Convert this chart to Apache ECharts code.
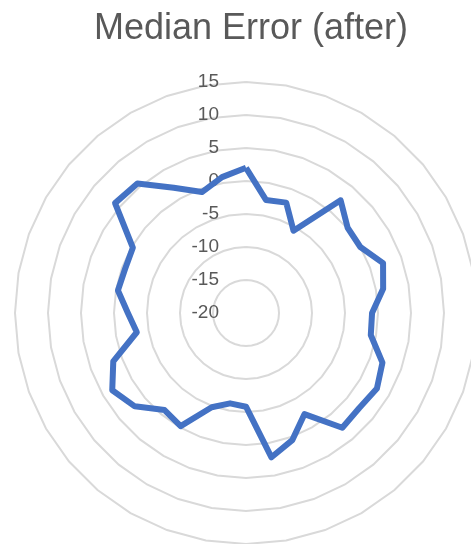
<!DOCTYPE html>
<html>
<head>
<meta charset="utf-8">
<script src="https://cdn.jsdelivr.net/npm/echarts@6/dist/echarts.min.js"></script>
<style>
html, body { margin: 0; padding: 0; background: #fff; }
#main { width: 471px; height: 544px; }
</style>
</head>
<body>
<div id="main"></div>
<script>
// 36 spokes, read clockwise from the top as Excel draws them
var categories = ['1', '2', '3', '4', '5', '6', '7', '8', '9', '10', '11', '12',
    '13', '14', '15', '16', '17', '18', '19', '20', '21', '22', '23', '24',
    '25', '26', '27', '28', '29', '30', '31', '32', '33', '34', '35', '36'];
var medianError = [2.0, -2.6, -2.2, -5.6, 2.3, 0.1, 0.0, 2.1, 1.1, -0.9, -0.8, 2.0,
    2.9, 2.4, 2.7, -2.3, 0.5, 2.2, -5.8, -6.1, -4.8, -0.2, -0.8, 2.0,
    3.4, 1.4, -3.2, -2.1, -0.3, -0.5, -0.2, 5.9, 5.6, 1.9, -0.5, 0.9];
var tickLabels = [-20, -15, -10, -5, 0, 5, 10, 15];

// echarts lays radar indicators out counter-clockwise, so walk the list backwards
var order = [0];
for (var i = categories.length - 1; i > 0; i--) order.push(i);

var indicators = order.map(function (idx, k) {
    var ind = {
        name: categories[idx],
        min: tickLabels[0],
        max: tickLabels[tickLabels.length - 1]
    };
    if (k === 0) {
        ind.axisLabel = {
            show: true,
            margin: 27,
            color: '#595959',
            fontSize: 19,
            fontFamily: 'Liberation Sans',
            showMinLabel: true,
            showMaxLabel: true
        };
    }
    return ind;
});

var myChart = echarts.init(document.getElementById('main'));
myChart.setOption({
    animation: false,
    title: {
        text: 'Median Error (after)',
        left: 246,
        textAlign: 'center',
        top: 6,
        textStyle: {
            color: '#595959',
            fontSize: 36,
            fontWeight: 'normal',
            fontFamily: 'Liberation Sans'
        }
    },
    radar: {
        center: [246, 313],
        radius: 231,
        startAngle: 90,
        splitNumber: tickLabels.length - 1,
        shape: 'polygon',
        indicator: indicators,
        axisName: { show: false },
        axisLine: { show: false },
        axisTick: { show: false },
        axisLabel: { show: false },
        splitArea: { show: false },
        splitLine: {
            lineStyle: { color: '#d9d9d9', width: 2 }
        }
    },
    series: [
        {
            name: 'Median Error (after)',
            type: 'radar',
            symbol: 'none',
            lineStyle: { color: '#4472c4', width: 6 },
            data: [
                { value: order.map(function (idx) { return medianError[idx]; }) }
            ]
        }
    ]
});
</script>
</body>
</html>
